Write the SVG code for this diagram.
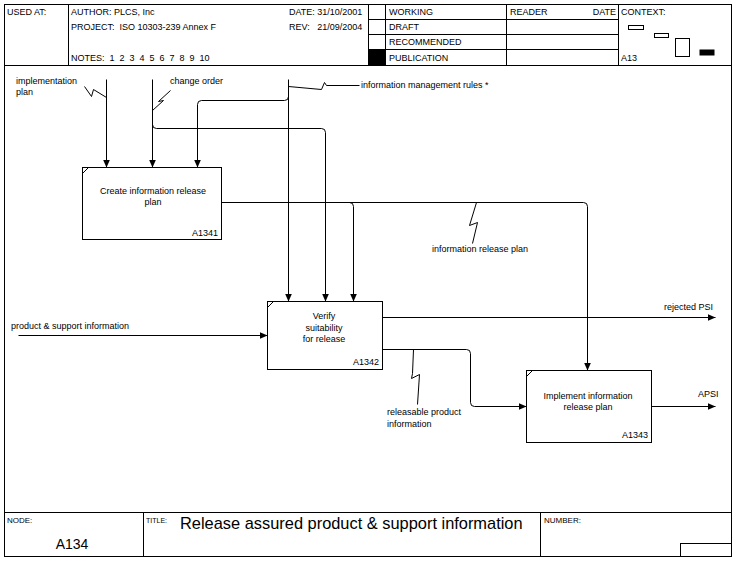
<svg xmlns="http://www.w3.org/2000/svg" width="742" height="567" viewBox="0 0 742 567">
<style>
text{font-family:"Liberation Sans",Arial,sans-serif;font-size:9px;fill:#000}
.ln{fill:none;stroke:#000;stroke-width:1}
.box{fill:#fff;stroke:#000;stroke-width:1}
.c{text-anchor:middle}
.r{text-anchor:end}
.arr{fill:none;stroke:#000;stroke-width:1;marker-end:url(#ah)}
</style>
<defs>
<marker id="ah" markerUnits="userSpaceOnUse" markerWidth="9" markerHeight="8" refX="8" refY="3.5" orient="auto">
<path d="M0,0 L8,3.5 L0,7 z" fill="#000"/>
</marker>
</defs>
<rect width="742" height="567" fill="#fff"/>
<g id="frame" transform="translate(0.5,0.5)">
<rect class="ln" x="4" y="4" width="727" height="552"/>
<line class="ln" x1="4" y1="65" x2="731" y2="65"/>
<line class="ln" x1="68" y1="4" x2="68" y2="65"/>
<line class="ln" x1="368" y1="4" x2="368" y2="65"/>
<line class="ln" x1="385" y1="4" x2="385" y2="65"/>
<line class="ln" x1="506" y1="4" x2="506" y2="65"/>
<line class="ln" x1="618" y1="4" x2="618" y2="65"/>
<line class="ln" x1="368" y1="19" x2="618" y2="19"/>
<line class="ln" x1="368" y1="34" x2="618" y2="34"/>
<line class="ln" x1="368" y1="49" x2="618" y2="49"/>
<rect x="368" y="49" width="17" height="16" fill="#000"/>
<rect class="ln" x="628" y="25" width="15" height="4"/>
<rect class="ln" x="654" y="33" width="14" height="4"/>
<rect class="ln" x="675" y="38" width="14" height="18"/>
<rect x="699" y="49" width="15" height="6" fill="#000"/>
<line class="ln" x1="4" y1="512" x2="731" y2="512"/>
<line class="ln" x1="143" y1="512" x2="143" y2="556"/>
<line class="ln" x1="540" y1="512" x2="540" y2="556"/>
<rect class="ln" x="680" y="543" width="51" height="13"/>
</g>
<g id="header-text">
<text x="7" y="15">USED AT:</text>
<text x="71" y="15">AUTHOR:  PLCS, Inc</text>
<text x="71" y="30" xml:space="preserve">PROJECT:  ISO 10303-239 Annex F</text>
<text x="71" y="61" xml:space="preserve">NOTES:  1  2  3  4  5  6  7  8  9  10</text>
<text x="289" y="15">DATE: 31/10/2001</text>
<text x="289" y="30" xml:space="preserve">REV:   21/09/2004</text>
<text x="389" y="15">WORKING</text>
<text x="389" y="30">DRAFT</text>
<text x="389" y="45">RECOMMENDED</text>
<text x="389" y="61">PUBLICATION</text>
<text x="510" y="15">READER</text>
<text class="r" x="616" y="15">DATE</text>
<text x="621" y="15">CONTEXT:</text>
<text x="621" y="61">A13</text>
</g>
<g id="footer-text">
<text x="7" y="523" style="font-size:8px">NODE:</text>
<text class="c" x="72" y="549" style="font-size:14px">A134</text>
<text x="146" y="523" style="font-size:7px">TITLE:</text>
<text x="180" y="529" style="font-size:16.4px">Release assured product &amp; support information</text>
<text x="544" y="523" style="font-size:8px">NUMBER:</text>
</g>
<g id="connectors" transform="translate(0.5,0.5)">
<path class="arr" d="M106,79 V167"/>
<path class="ln" d="M84,86 L91,96 L93,89 L106,97"/>
<path class="arr" d="M152,79 V167"/>
<path class="ln" d="M152,110 L163,100 L158,101 L170,90"/>
<path class="arr" d="M152,124 Q152,128 156,128 H321 Q325,128 325,132 V301"/>
<path class="arr" d="M288,79 V301"/>
<path class="ln" d="M288,86 L321,89 L324,82 L326,85 L359,85"/>
<path class="arr" d="M288,96 Q288,100 284,100 H201 Q197,100 197,104 V167"/>
<path class="arr" d="M221,202 H583 Q587,202 587,206 V370"/>
<path class="arr" d="M349,202 Q353,202 353,206 V301"/>
<path class="ln" d="M476,202 L469,225 L477,222 L472,243"/>
<path class="arr" d="M18,335 H267"/>
<path class="arr" d="M382,317 H715"/>
<path class="arr" d="M382,349 H466 Q470,349 470,353 V402 Q470,406 474,406 H526"/>
<path class="ln" d="M413,349 L412,373 L411,378 L419,374 L417,404"/>
<path class="arr" d="M651,406 H715"/>
</g>
<g id="labels">
<text x="16" y="84">implementation</text>
<text x="16" y="95">plan</text>
<text x="170" y="84">change order</text>
<text x="361" y="88">information management rules *</text>
<text x="432" y="252">information release plan</text>
<text x="11" y="329">product &amp; support information</text>
<text class="r" x="713" y="310">rejected PSI</text>
<text x="387" y="415">releasable product</text>
<text x="387" y="427">information</text>
<text x="698" y="397">APSI</text>
</g>
<g id="A1341">
<rect class="box" x="82.5" y="167.5" width="139" height="72"/>
<line class="ln" x1="82.5" y1="173.5" x2="88.5" y2="167.5"/>
<text class="c" x="153" y="194">Create information release</text>
<text class="c" x="153" y="205">plan</text>
<text class="r" x="218" y="236">A1341</text>
</g>
<g id="A1342">
<rect class="box" x="267.5" y="301.5" width="115" height="68"/>
<line class="ln" x1="267.5" y1="307.5" x2="273.5" y2="301.5"/>
<text class="c" x="324" y="319">Verify</text>
<text class="c" x="324" y="330.5">suitability</text>
<text class="c" x="324" y="342">for release</text>
<text class="r" x="379" y="365">A1342</text>
</g>
<g id="A1343">
<rect class="box" x="526.5" y="370.5" width="125" height="72"/>
<line class="ln" x1="526.5" y1="376.5" x2="532.5" y2="370.5"/>
<text class="c" x="588" y="399">Implement information</text>
<text class="c" x="588" y="410">release plan</text>
<text class="r" x="648" y="438">A1343</text>
</g>
</svg>
